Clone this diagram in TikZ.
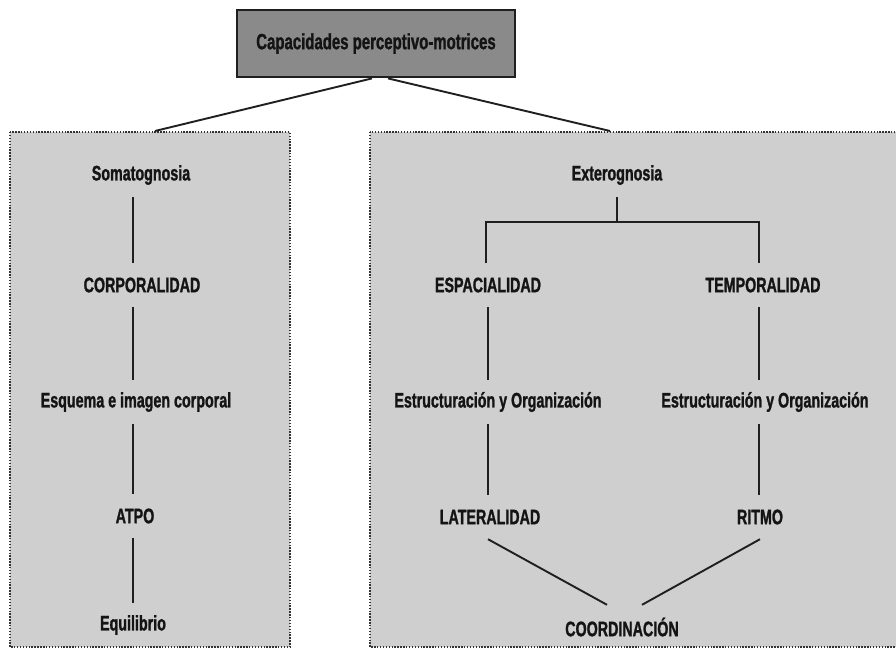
\documentclass[tikz,border=0pt]{standalone}
\usepackage{fontspec}
\setmainfont{Liberation Sans}[FakeStretch=0.68, BoldFeatures={FakeBold=1.2}]
\begin{document}
\begin{tikzpicture}[x=1pt,y=-1pt,
  lbl/.style={font=\bfseries\fontsize{21}{23}\selectfont, text=black!92, inner sep=0pt, minimum height=44pt, anchor=center},
  link/.style={draw=black!88, line width=1.9pt},
  panel/.style={fill=black!19, draw=black!80, line width=1.9pt, dash pattern=on 1.4pt off 1.5pt},
  titlebox/.style={fill=black!46, draw=black!88, line width=2.8pt, minimum width=278pt, minimum height=67pt, font=\bfseries\fontsize{22}{24}\selectfont, text=black!92, inner sep=0pt}
]
\useasboundingbox (0,0) rectangle (896,651);
\fill[white] (0,0) rectangle (896,651);
% panels
\draw[panel] (10,132) rectangle (290,647);
\draw[panel] (370,132) rectangle (905,647);
% title
\node[titlebox] (top) at (376,43.5) {Capacidades perceptivo-motrices};
\coordinate (lp) at (155,131);
\coordinate (rp) at (610,131);
\draw[link] ([xshift=-4pt]top.south) -- (lp);
\draw[link] ([xshift=12pt]top.south) -- (rp);
% left column
\node[lbl] (som) at (141,175) {Somatognosia};
\node[lbl] (cor) at (142,285) {CORPORALIDAD};
\node[lbl] (esq) at (136,402) {Esquema e imagen corporal};
\node[lbl] (atp) at (135,516) {ATPO};
\node[lbl] (equ) at (133,625) {Equilibrio};
\draw[link] (som.south -| 133,0) -- (cor.north -| 133,0);
\draw[link] (cor.south -| 133,0) -- (esq.north -| 133,0);
\draw[link] (esq.south -| 133,0) -- (atp.north -| 133,0);
\draw[link] (atp.south -| 133,0) -- (equ.north -| 133,0);
% right column
\node[lbl] (ext) at (617,175) {Exterognosia};
\node[lbl] (esp) at (488,285) {ESPACIALIDAD};
\node[lbl] (tem) at (763,285) {TEMPORALIDAD};
\node[lbl] (eo1) at (498,402) {Estructuración y Organización};
\node[lbl] (eo2) at (765,402) {Estructuración y Organización};
\node[lbl] (lat) at (490,517) {LATERALIDAD};
\node[lbl] (rit) at (760,517) {RITMO};
\node[lbl] (coo) at (622,627) {COORDINACIÓN};
\coordinate (fork) at (617,222);
\draw[link] (ext.south) -- (fork);
\draw[link] (fork) -- (fork -| 486,0) -- (esp.north -| 486,0);
\draw[link] (fork) -- (fork -| 759,0) -- (tem.north -| 759,0);
\draw[link] (esp.south -| 488,0) -- (eo1.north -| 488,0);
\draw[link] (eo1.south -| 488,0) -- (lat.north -| 488,0);
\draw[link] (tem.south -| 759,0) -- (eo2.north -| 759,0);
\draw[link] (eo2.south -| 759,0) -- (rit.north -| 759,0);
\draw[link] ([xshift=-2pt]lat.south) -- ([xshift=-15pt]coo.north);
\draw[link] (rit.south) -- ([xshift=20pt]coo.north);
\end{tikzpicture}
\end{document}
